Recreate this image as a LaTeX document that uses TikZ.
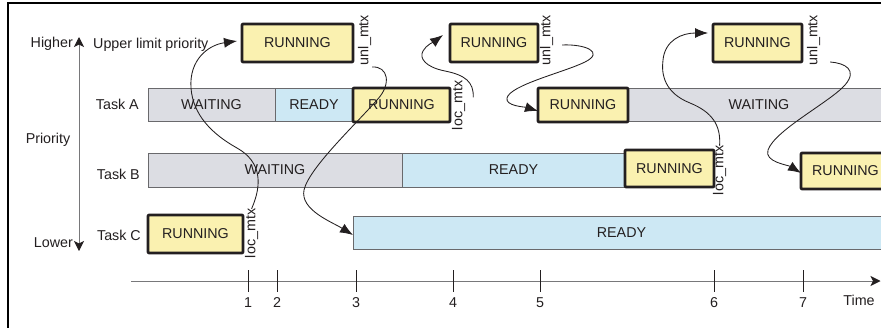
\documentclass[tikz,border=0pt]{standalone}
\usepackage{fontspec}
\setmainfont{Liberation Sans}
\usetikzlibrary{arrows.meta}
\definecolor{runfill}{RGB}{250,241,176}
\definecolor{waitfill}{RGB}{220,221,227}
\definecolor{readyfill}{RGB}{205,232,244}
\definecolor{txt}{RGB}{35,31,32}
\definecolor{edgegrey}{RGB}{105,105,108}
\definecolor{axisgrey}{RGB}{120,120,122}
\begin{document}
\begin{tikzpicture}[x=1pt,y=-1pt,
  font=\fontsize{14.3}{16}\selectfont, text=txt,
  statebar/.style={draw=edgegrey, line width=0.9pt, inner sep=0pt, outer sep=0pt, anchor=north west},
  waitbar/.style={statebar, fill=waitfill},
  readybar/.style={statebar, fill=readyfill},
  runbox/.style={draw=txt, fill=runfill, line width=2.6pt, line join=round, rounded corners=0.8pt,
    inner sep=0pt, outer sep=0pt, anchor=north west},
  mtxlabel/.style={rotate=90, anchor=north west, inner sep=0pt, outer sep=0pt},
  conn/.style={draw=txt, line width=0.85pt, -{Latex[length=13pt,width=10pt]}},
  axisline/.style={draw=axisgrey, line width=1pt},
  axistip/.style={-{Stealth[length=10pt,width=10pt,inset=2.5pt,color=txt,fill=txt]}},
  tickmark/.style={draw=txt, line width=0.8pt},
  ticklabel/.style={anchor=base},
]
\clip (0,0) rectangle (881,327);
\fill[white] (0,0) rectangle (881,327);

% frame
\draw[black, line width=2.3pt] (8,340) -- (8,3) -- (900,3);

% priority axis
\coordinate (phigh) at (79,37);
\coordinate (plow) at (79,251);
\coordinate (pmid) at (79,140);
\draw[axisline, axistip] (pmid) -- (phigh);
\draw[axisline, axistip] (pmid) -- (plow);
\node[anchor=base east, inner sep=0pt] (higher) at (73,47.5) {Higher};
\node[anchor=base east, inner sep=0pt] (lower) at (73,247) {Lower};
\node[anchor=base, inner sep=0pt] (priority) at (48,143) {Priority};
\node[anchor=base west, inner sep=0pt] (upl) at (93,48) {Upper limit priority};

% task labels
\node[anchor=east, inner sep=0pt] (tA) at (139,104) {Task A};
\node[anchor=east, inner sep=0pt] (tB) at (140,174) {Task B};
\node[anchor=east, inner sep=0pt] (tC) at (141,235) {Task C};

% Task A row
\node[waitbar, minimum width=127pt, minimum height=33pt] (AW1) at (148,88) {WAITING};
\node[readybar, minimum width=78pt, minimum height=33pt] (AR) at (275,88) {READY};
\node[waitbar, minimum width=262pt, minimum height=33pt] (AW2) at (628,88) {WAITING};

% Task B row
\node[waitbar, minimum width=254pt, minimum height=34pt] (BW) at (148,153) {WAITING};
\node[readybar, minimum width=223pt, minimum height=34pt] (BRd) at (402,153) {READY};

% Task C row
\node[readybar, minimum width=537pt, minimum height=33pt] (CR) at (353,216) {READY};

% running boxes
\node[runbox, minimum width=111pt, minimum height=38pt] (U1) at (242,24) {RUNNING};
\node[runbox, minimum width=88pt, minimum height=38pt] (U2) at (450,24) {RUNNING};
\node[runbox, minimum width=89pt, minimum height=38pt] (U3) at (713,24) {RUNNING};
\node[runbox, minimum width=97pt, minimum height=34pt] (AR1) at (353,88) {RUNNING};
\node[runbox, minimum width=90pt, minimum height=34pt] (AR2) at (538,88) {RUNNING};
\node[runbox, minimum width=89pt, minimum height=37pt] (BR1) at (625,150) {RUNNING};
\node[runbox, minimum width=89pt, minimum height=36pt] (BR2) at (801,153) {RUNNING};
\node[runbox, minimum width=95pt, minimum height=38pt] (CR1) at (148,215) {RUNNING};

% mutex labels
\node[mtxlabel] (lu1) at (358,65) {unl\_mtx};
\node[mtxlabel] (lu2) at (540,65) {unl\_mtx};
\node[mtxlabel] (lu3) at (807,65) {unl\_mtx};
\node[mtxlabel] (lA) at (452,130) {loc\_mtx};
\node[mtxlabel] (lB) at (713,195) {loc\_mtx};
\node[mtxlabel] (lC) at (245,258) {loc\_mtx};

% time axis
\coordinate (tstart) at (131,281);
\coordinate (tend) at (880.5,281);
\draw[axisline, axistip] (tstart) -- (tend);
\foreach \tx/\tn in {248/1, 277/2, 356/3, 453/4, 540/5, 714/6, 803/7} {
  \draw[tickmark] (\tx,270) -- (\tx,292);
  \node[ticklabel, inner sep=0pt] at (\tx,307) {\tn};
}
\node[anchor=base, inner sep=0pt] (timelbl) at (859,305) {Time};

% connectors
\draw[conn] (lC.east) .. controls (262,185) and (262,162) .. (237,148)
  .. controls (212,134) and (193,115) .. (191,88)
  .. controls (189,60) and (208,45) .. ([xshift=-5pt,yshift=2pt]U1.west);

\draw[conn] ([xshift=1pt,yshift=-2pt]lu1.south west) .. controls (388,66) and (392,84) .. (377,100)
  .. controls (356,124) and (309,168) .. (304,190)
  .. controls (300,210) and (332,222) .. ([yshift=-2.5pt]CR.west);

\draw[conn] ([xshift=8pt,yshift=8pt]lA.south) .. controls (474,82) and (465,75) .. (445,71)
  .. controls (425,67) and (419,58) .. (423,51)
  .. controls (426,45) and (435,41) .. ([xshift=-7pt,yshift=8pt]U2.west);

\draw[conn] ([xshift=9pt,yshift=-5pt]lu2.south) .. controls (585,44) and (605,52) .. (585,62)
  .. controls (565,72) and (510,85) .. (507,98)
  .. controls (505,106) and (525,107) .. ([yshift=-6pt]AR2.west);

\draw[conn] (lB.east) .. controls (721,125) and (712,112) .. (690,103)
  .. controls (665,93) and (661,75) .. (663,60)
  .. controls (665,40) and (682,33) .. ([xshift=-5pt,yshift=10pt]U3.west);

\draw[conn] ([xshift=10pt,yshift=3pt]lu3.south west) .. controls (845,63) and (858,70) .. (845,85)
  .. controls (830,102) and (775,130) .. (768,150)
  .. controls (764,162) and (788,165) .. ([yshift=-2pt]BR2.west);
\end{tikzpicture}
\end{document}
